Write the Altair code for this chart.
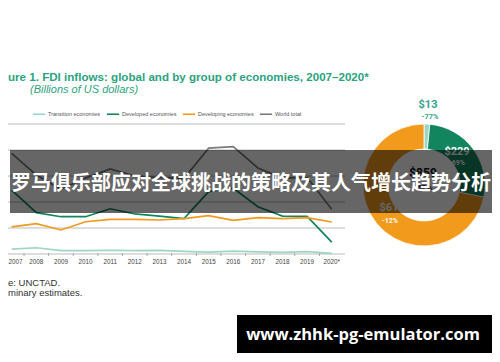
import altair as alt
import pandas as pd

# ---------------- data ----------------
years = list(range(2007, 2021))
year_labels = [str(y) for y in range(2007, 2020)] + ["2020*"]
series_names = ["Transition economies", "Developed economies", "Developing economies", "World total"]
series_colors = ["#9dd6c6", "#12855f", "#f29a1c", "#7b7b7b"]

transition = [92, 120, 65, 65, 72, 65, 70, 52, 35, 55, 40, 33, 45, 13]
developed = [1230, 795, 717, 717, 870, 770, 730, 680, 1200, 1265, 910, 730, 725, 229]
developing = [520, 583, 462, 620, 667, 667, 654, 679, 737, 648, 698, 679, 698, 616]
world = [1935, 1520, 1245, 1460, 1635, 1500, 1470, 1455, 2035, 2065, 1655, 1460, 1470, 859]

grid_values = [0, 500, 1000, 1500, 2000, 2500]

donut_names = series_names[:3]
donut_values = [13, 229, 616]
donut_changes = ["-77%", "-69%", "-12%"]
total_value = 859
total_change = "-42%"

title_text = "ure 1. FDI inflows: global and by group of economies, 2007\u20132020*"
subtitle_text = "(Billions of US dollars)"
source_lines = ["e: UNCTAD.", "minary estimates."]
banner_text = "罗马俱乐部应对全球挑战的策略及其人气增长趋势分析"
url_text = "www.zhhk-pg-emulator.com"

# ---------------- tables ----------------
rows = []
for name, vals in zip(series_names, [transition, developed, developing, world]):
    for y, v in zip(years, vals):
        rows.append({"year": y, "value": v, "series": name})
df_lines = pd.DataFrame(rows)
df_grid = pd.DataFrame({"value": grid_values})
df_years = pd.DataFrame({"year": years, "label": year_labels})
df_ticks = pd.DataFrame({"year": years[:-1]})
df_donut = pd.DataFrame({"series": donut_names, "value": donut_values, "idx": list(range(3))})
one = pd.DataFrame({"k": [0]})

W, H = 484, 346
xs = alt.Scale(domain=[2006.85, 2026.51], nice=False, zero=False)
ys = alt.Scale(domain=[-1923.1, 4730.8], nice=False, zero=False)
SANS = "Liberation Sans"

color_enc = alt.Color(
    "series:N",
    scale=alt.Scale(domain=series_names, range=series_colors),
    legend=alt.Legend(
        orient="none", legendX=24, legendY=99, direction="horizontal", title=None,
        symbolType="stroke", symbolSize=150, symbolStrokeWidth=1.6,
        labelFontSize=5.5, labelFont=SANS, labelColor="#555",
        columnPadding=2, labelOffset=2, padding=0,
    ),
)

grid = alt.Chart(df_grid).mark_rule(color="#d2d2d2", strokeWidth=1.3).encode(
    y=alt.Y("value:Q", scale=ys, axis=None),
    x=alt.value(0), x2=alt.value(337),
)

ticks = alt.Chart(df_ticks).transform_calculate(mid="datum.year + 0.5").mark_rule(
    color="#aaaaaa", strokeWidth=1
).encode(
    x=alt.X("mid:Q", scale=xs, axis=None),
    y=alt.value(245), y2=alt.value(248),
)

lines = alt.Chart(df_lines).mark_line(strokeWidth=1.7).encode(
    x=alt.X("year:Q", scale=xs, axis=None),
    y=alt.Y("value:Q", scale=ys, axis=None),
    color=color_enc,
)

year_text = alt.Chart(df_years).transform_filter("datum.year > 2007").mark_text(
    font=SANS, fontSize=6.3, color="#444", baseline="middle"
).encode(
    x=alt.X("year:Q", scale=xs, axis=None),
    y=alt.value(254),
    text="label:N",
)
first_year = alt.Chart(df_years).transform_filter("datum.year == 2007").mark_text(
    font=SANS, fontSize=6.3, color="#444", baseline="middle", align="left"
).encode(
    x=alt.value(0.5),
    y=alt.value(254),
    text="label:N",
)

donut = alt.Chart(df_donut).mark_arc(innerRadius=36, outerRadius=61, stroke="white", strokeWidth=0.8).encode(
    theta=alt.Theta("value:Q", stack=True),
    color=color_enc,
    order=alt.Order("idx:Q"),
    x=alt.value(416), y=alt.value(177),
)


def txt(text, x, y, size, color, weight="normal", font=SANS, align="center",
        baseline="middle", style="normal"):
    return alt.Chart(one).mark_text(
        font=font, fontSize=size, color=color, fontWeight=weight, align=align,
        baseline=baseline, fontStyle=style,
    ).encode(x=alt.value(x), y=alt.value(y), text=alt.value(text))


lab = "Roboto"
donut_labels = [
    txt(f"${donut_values[0]}", 420, 97, 11, "#35a589", "bold", lab),
    txt(donut_changes[0], 422, 109, 7.5, "#35a589", "bold", lab),
    txt(f"${donut_values[1]}", 449, 144, 11, "white", "bold", lab),
    txt(donut_changes[1], 449, 155, 7, "white", "bold", lab),
    txt(f"${donut_values[2]}", 384, 200, 11, "white", "bold", lab),
    txt(donut_changes[2], 382, 213, 7, "white", "bold", lab),
    txt(f"${total_value}", 415, 165, 12, "#111", "bold", lab),
    txt(total_change, 415, 180, 8, "#111", "bold", lab),
]

title = txt(title_text, 0, 72.7, 11.6, "#2ba37f", "bold", align="left", baseline="alphabetic")
subtitle = txt(subtitle_text, 22, 85, 11, "#2ba37f", "normal", align="left",
               baseline="alphabetic", style="italic")
src1 = txt(source_lines[0], 0, 278, 9.5, "#333", align="left", baseline="alphabetic")
src2 = txt(source_lines[1], 0, 288, 9.5, "#333", align="left", baseline="alphabetic")

banner = alt.Chart(one).mark_rect(color="black", opacity=0.6).encode(
    x=alt.value(2), x2=alt.value(484), y=alt.value(142), y2=alt.value(205)
)
banner_t = txt(banner_text, 243, 176, 20, "white", "bold", "Noto Sans CJK SC")

box = alt.Chart(one).mark_rect(color="black").encode(
    x=alt.value(229), x2=alt.value(484), y=alt.value(307), y2=alt.value(345)
)
box_t = txt(url_text, 355, 327, 16.5, "white", "bold", "Open Sans")

chart = alt.layer(
    grid, ticks, lines, year_text, first_year, donut, *donut_labels, title, subtitle, src1, src2,
    banner, banner_t, box, box_t,
).properties(
    width=W, height=H, autosize=alt.AutoSizeParams(type="none"), padding=0,
    background="white",
).configure_view(stroke=None)

chart.save("out.html", embed_options={"renderer": "svg", "actions": False})
